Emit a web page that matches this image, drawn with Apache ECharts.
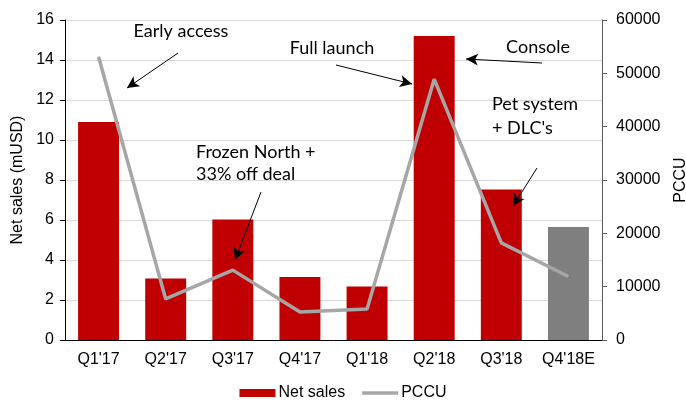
<!DOCTYPE html>
<html>
<head>
<meta charset="utf-8">
<script src="https://cdn.jsdelivr.net/npm/echarts@6/dist/echarts.min.js"></script>
<style>
  html, body { margin: 0; padding: 0; background: #fff; }
  #chart { width: 686px; height: 400px; }
</style>
</head>
<body>
<div id="chart"></div>
<script>
  // quarters on the x axis
  var quarters = ["Q1'17", "Q2'17", "Q3'17", "Q4'17", "Q1'18", "Q2'18", "Q3'18", "Q4'18E"];
  // net sales in mUSD (last one is an estimate)
  var netSales = [10.9, 3.08, 6.03, 3.15, 2.68, 15.2, 7.53, 5.65];
  // peak concurrent users
  var pccu = [53100, 7700, 13100, 5250, 5800, 48900, 18200, 11900];
  var salesTicks = { min: 0, max: 16, step: 2 };
  var pccuTicks = { min: 0, max: 60000, step: 10000 };

  var red = '#c00000', grey = '#7f7f7f', lineGrey = '#a6a6a6';
  var axisFont = 'Arial';
  var noteFont = 'Lato';

  var chart = echarts.init(document.getElementById('chart'));

  // arrows for the annotations (pixel positions)
  var arrows = [
    [{ x: 178, y: 53 }, { x: 127, y: 88 }],
    [{ x: 261, y: 192 }, { x: 235, y: 260 }],
    [{ x: 336, y: 65 }, { x: 412, y: 84 }],
    [{ x: 542, y: 63 }, { x: 466, y: 59 }],
    [{ x: 537, y: 168 }, { x: 513, y: 206 }]
  ];

  function note(text, x, y, align) {
    return {
      type: 'text', x: x, y: y, z: 100,
      style: { text: text, fill: '#000', fontSize: 18, fontFamily: noteFont, textAlign: align || 'center', textVerticalAlign: 'middle' }
    };
  }

  var option = {
    animation: false,
    grid: { left: 65, right: 84, top: 20, bottom: 60, outerBoundsMode: 'none' },
    legend: {
      top: 380,
      left: 'center',
      itemWidth: 36,
      itemHeight: 8,
      itemGap: 17,
      textStyle: { fontFamily: axisFont, fontSize: 16, color: '#000', padding: [0, 0, 0, -2] },
      data: [
        { name: 'Net sales', icon: 'rect', itemStyle: { color: red } },
        { name: 'PCCU', icon: 'path://M0,0 L36,0 L36,3.5 L0,3.5 Z', itemStyle: { color: lineGrey } }
      ]
    },
    xAxis: {
      type: 'category',
      data: quarters,
      axisLine: { lineStyle: { color: '#000', width: 1 } },
      axisTick: { length: 5, lineStyle: { color: '#000' } },
      axisLabel: { color: '#000', fontFamily: axisFont, fontSize: 16, margin: 12, interval: 0 }
    },
    yAxis: [
      {
        type: 'value',
        min: salesTicks.min, max: salesTicks.max, interval: salesTicks.step,
        name: 'Net sales (mUSD)',
        nameLocation: 'middle',
        nameGap: 36,
        nameRotate: 90,
        nameTextStyle: { color: '#000', fontFamily: axisFont, fontSize: 16 },
        axisLine: { show: true, lineStyle: { color: '#000' } },
        axisTick: { show: true, length: 5, lineStyle: { color: '#000' } },
        axisLabel: { color: '#000', fontFamily: axisFont, fontSize: 16, margin: 11 },
        splitLine: { lineStyle: { color: '#d9d9d9', width: 1 } }
      },
      {
        type: 'value',
        min: pccuTicks.min, max: pccuTicks.max, interval: pccuTicks.step,
        name: 'PCCU',
        nameLocation: 'middle',
        nameGap: 71,
        nameRotate: 90,
        nameTextStyle: { color: '#000', fontFamily: axisFont, fontSize: 16 },
        axisLine: { show: true, lineStyle: { color: '#595959' } },
        axisTick: { show: true, length: 5, lineStyle: { color: '#595959' } },
        axisLabel: {
          color: '#000', fontFamily: axisFont, fontSize: 16, margin: 14,
          formatter: function (v) { return String(v); }
        },
        splitLine: { show: false }
      }
    ],
    series: [
      {
        name: 'Net sales',
        type: 'bar',
        barWidth: '61%',
        data: netSales.map(function (v, i) {
          return { value: v, itemStyle: { color: i === netSales.length - 1 ? grey : red } };
        }),
        itemStyle: { color: red },
        markLine: {
          silent: true,
          symbol: ['none', 'arrow'],
          symbolSize: [9, 12],
          label: { show: false },
          lineStyle: { color: '#000', width: 1, type: 'solid' },
          data: arrows
        }
      },
      {
        name: 'PCCU',
        type: 'line',
        yAxisIndex: 1,
        data: pccu,
        symbol: 'none',
        lineStyle: { color: lineGrey, width: 3.5 },
        itemStyle: { color: lineGrey }
      }
    ],
    graphic: [
      note('Early access', 181, 31),
      note('Frozen North +', 196, 152, 'left'),
      note('33% off deal', 196, 174, 'left'),
      note('Full launch', 332, 48),
      note('Console', 538, 47),
      note('Pet system', 492, 104, 'left'),
      note("+ DLC's", 492, 128, 'left')
    ]
  };

  chart.setOption(option);
</script>
</body>
</html>
